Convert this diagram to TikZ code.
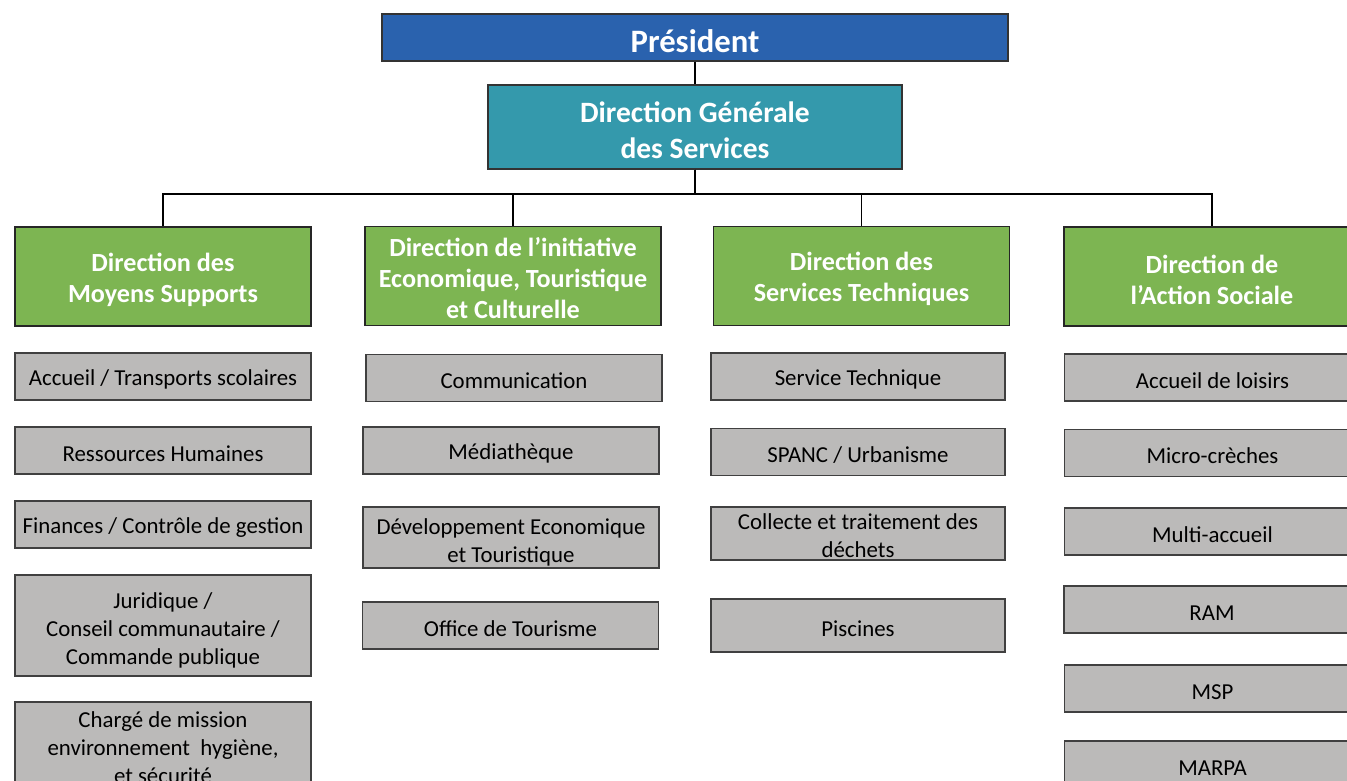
\documentclass[tikz,border=0pt]{standalone}
\usepackage{fontspec}
\setmainfont{Carlito}
\definecolor{presblue}{RGB}{42,98,174}
\definecolor{dgsteal}{RGB}{52,153,172}
\definecolor{dirgreen}{RGB}{125,181,82}
\definecolor{unitgray}{RGB}{187,186,185}
% taller first line, moves a multi-line text down
\newcommand{\lift}[1]{\rule{0pt}{#1em}}

\begin{document}
\begin{tikzpicture}[
    x=0.02cm, y=-0.02cm,
    % Base styles for the boxes
    every node/.style={align=center, inner sep=0pt,
        execute at begin node={\rule{0pt}{0.95em}}}, % pushes text a bit lower
    top/.style={draw=black!80, line width=0.8pt, text=white,
        font=\bfseries\fontsize{18.6}{22}\selectfont},
    head/.style={draw=black!85, line width=0.8pt, fill=dirgreen, text=white,
        minimum width=5.92cm, minimum height=1.98cm,
        font=\bfseries\fontsize{14.9}{17.6}\selectfont},
    unit/.style={draw=black!75, line width=0.8pt, fill=unitgray,
        minimum width=5.92cm, minimum height=0.94cm,
        font=\fontsize{13}{15.9}\selectfont},
    link/.style={line width=0.8pt}
]
\useasboundingbox (0,0) rectangle (1347,781);
\clip (0,0) rectangle (1347,781);

% ==================== TOP ====================
\node[top, fill=presblue, minimum width=12.52cm, minimum height=0.94cm] (pres) at (695,37.5) {Président};
\node[top, fill=dgsteal, minimum width=8.28cm, minimum height=1.68cm,
    font=\bfseries\fontsize{16.8}{20.4}\selectfont] (dgs) at (695,127) {\lift{0.9}Direction Générale\\des Services};
\coordinate (bus) at (695,194);

% ==================== DIRECTIONS ====================
\node[head] (dir1) at (163,276.5) {\lift{0.93}Direction des\\Moyens Supports};
\node[head] (dir2) at (513,276) {\lift{0.9}Direction de l’initiative\\Economique, Touristique\\et Culturelle};
\node[head] (dir3) at (861.5,276) {\lift{0.93}Direction des\\Services Techniques};
\node[head] (dir4) at (1212,276.5) {\lift{0.93}Direction de\\l’Action Sociale};

% ==================== SERVICES ====================
% moyens supports
\node[unit] (ms1) at (163,376.5) {Accueil / Transports scolaires};
\node[unit] (ms2) at (163,450.5) {Ressources Humaines};
\node[unit] (ms3) at (163,524.5) {Finances / Contrôle de gestion};
\node[unit, minimum height=2.02cm] (ms4) at (163,625.5) {\lift{1.14}Juridique /\\Conseil communautaire /\\Commande publique};
\node[unit, minimum height=1.76cm] (ms5) at (163,746) {\lift{0.85}Chargé de mission\\environnement \ hygiène,\\et sécurité};
% initiative economique
\node[unit] (ie1) at (514,378) {Communication};
\node[unit] (ie2) at (511,450.5) {Médiathèque};
\node[unit, minimum height=1.22cm] (ie3) at (511,537.5) {\lift{1.1}Développement Economique\\et Touristique};
\node[unit] (ie4) at (510.5,625.5) {Office de Tourisme};
% services techniques
\node[unit, minimum width=5.88cm] (st1) at (858,376.5) {Service Technique};
\node[unit, minimum width=5.88cm] (st2) at (858,452) {SPANC / Urbanisme};
\node[unit, minimum width=5.88cm, minimum height=1.06cm] (st3) at (858,533.5) {\lift{0.9}Collecte et traitement des\\déchets};
\node[unit, minimum width=5.88cm, minimum height=1.06cm] (st4) at (858,625.5) {Piscines};
% action sociale
\node[unit] (as1) at (1212.5,377.5) {Accueil de loisirs};
\node[unit] (as2) at (1212.5,453) {Micro-crèches};
\node[unit] (as3) at (1212.5,531.5) {Multi-accueil};
\node[unit] (as4) at (1212,609.5) {RAM};
\node[unit] (as5) at (1212.5,688.5) {MSP};
\node[unit] (as6) at (1212.5,764.5) {MARPA};

% ==================== CONNECTIONS ====================
\draw[link] (pres) -- (dgs);
\foreach \d in {dir1, dir2, dir3, dir4}
    \draw[link] (dgs.south) -- (bus) -| (\d.north);

\end{tikzpicture}
\end{document}
